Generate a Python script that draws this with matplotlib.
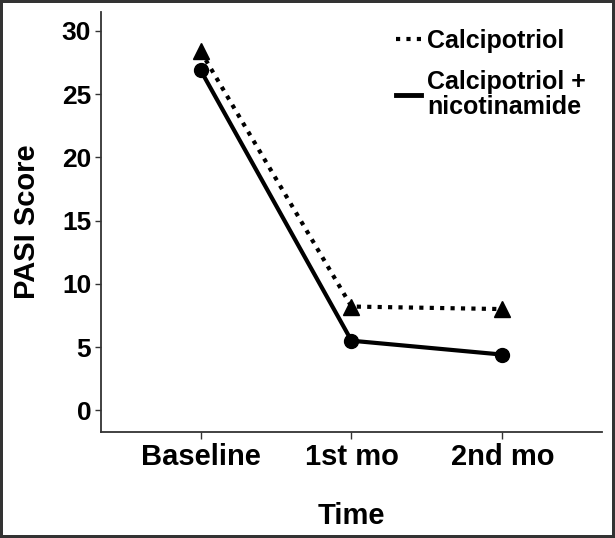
import matplotlib
matplotlib.use("Agg")
import matplotlib.pyplot as plt
from matplotlib.lines import Line2D

plt.rcParams["font.family"] = ["Liberation Sans", "DejaVu Sans"]
plt.rcParams["font.weight"] = "bold"

# data
times = ["Baseline", "1st mo", "2nd mo"]
calcipotriol = [28.4, 8.2, 8.0]
calci_nicotinamide = [26.9, 5.5, 4.4]
yticks = [0, 5, 10, 15, 20, 25, 30]

fig = plt.figure(figsize=(6.15, 5.38), dpi=100)
ax = fig.add_axes([0.164, 0.197, 0.815, 0.781])

x = range(len(times))
ax.plot(x, calcipotriol, color="black", lw=3, ls=(0, (1, 1.5)),
        marker="^", ms=12, label="Calcipotriol")
ax.plot(x, calci_nicotinamide, color="black", lw=3, ls="-",
        marker="o", ms=10, label="Calcipotriol +\nnicotinamide")

ax.set_xlim(-0.66, 2.66)
ax.set_ylim(-1.72, 31.5)
ax.set_xticks(list(x))
ax.set_xticklabels(times)
ax.set_yticks(yticks)

for side in ["top", "right"]:
    ax.spines[side].set_visible(False)
for side in ["left", "bottom"]:
    ax.spines[side].set_color("#333333")
    ax.spines[side].set_linewidth(1.3)

ax.tick_params(axis="y", labelsize=19, length=4, width=1, color="#333333", pad=3)
ax.tick_params(axis="x", labelsize=21, length=5, width=1, color="#333333", pad=3)
for lbl in ax.get_xticklabels() + ax.get_yticklabels():
    lbl.set_fontweight("bold")

ax.set_xlabel("Time", fontsize=21, fontweight="bold", labelpad=22)
ax.set_ylabel("PASI Score", fontsize=21, fontweight="bold", labelpad=15)

# legend shows lines only
handles = [Line2D([], [], color="black", lw=3, ls=(0, (1, 1.5))),
           Line2D([], [], color="black", lw=3.5, ls="-")]
leg = fig.legend(handles, ["Calcipotriol", "Calcipotriol +\nnicotinamide"],
                 loc="upper left", bbox_to_anchor=(396 / 615, 1 - 29 / 538),
                 frameon=False, prop={"size": 18, "weight": "bold"},
                 handlelength=1.0, handletextpad=0.25, labelspacing=0.7,
                 borderpad=0, borderaxespad=0)
for t in leg.get_texts():
    t.set_linespacing(1.0)

fig.patch.set_edgecolor("#333333")
fig.patch.set_linewidth(3)

fig.savefig("out.png", dpi=100, edgecolor=fig.get_edgecolor())
